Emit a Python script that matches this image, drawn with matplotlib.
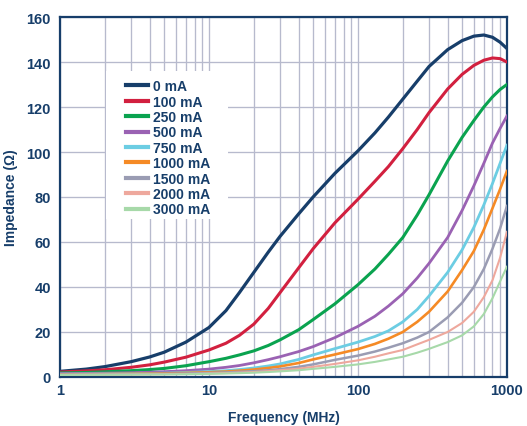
import matplotlib
matplotlib.use('Agg')
import matplotlib.pyplot as plt
import matplotlib.patches as patches
from matplotlib.ticker import FixedLocator, NullFormatter

plt.rcParams['font.family'] = ['Liberation Sans', 'DejaVu Sans']

# frequency points (MHz)
freq = [1, 1.5, 2, 3, 4, 5, 7, 10, 13, 16, 20, 25, 30, 40, 50, 70, 100,
        130, 160, 200, 250, 300, 400, 500, 600, 700, 800, 900, 1000]

# impedance (ohm) per bias current
z_0ma = [2.5, 3.5, 4.6, 6.8, 8.9, 11, 15.5, 22, 29.5, 37.5, 46.5, 55.5, 62.5, 72.5, 80, 90.5, 100.5,
         108.5, 115.5, 123.5, 131.5, 138, 145.5, 149.5, 151.5, 152, 151, 148.8, 146]
z_100ma = [2.2, 2.7, 3.2, 4.3, 5.4, 6.6, 8.8, 12, 15, 18.5, 23.5, 30.5, 37.5, 48.5, 57, 68.5, 79,
           87, 93.5, 101.5, 110, 117.5, 128, 134.5, 138.5, 140.8, 141.8, 141.5, 140]
z_250ma = [1.8, 2, 2.3, 2.8, 3.3, 3.8, 5, 6.8, 8.3, 9.8, 11.6, 14, 16.5, 21, 25.5, 32.5, 41,
           48, 54.5, 62, 72, 81, 96, 106.5, 114, 120, 124.5, 127.8, 130]
z_500ma = [1.5, 1.6, 1.7, 1.9, 2.1, 2.35, 2.8, 3.5, 4.3, 5.1, 6.3, 7.7, 9, 11.3, 13.5, 17.5, 22.5,
           27, 31.5, 37, 44, 50.5, 62, 74, 85, 95, 104, 110.5, 116]
z_750ma = [1.3, 1.35, 1.4, 1.5, 1.6, 1.7, 2, 2.4, 2.8, 3.3, 4, 4.9, 5.8, 7.8, 9.8, 12.6, 15.5,
           18, 20.5, 24.5, 30, 36, 46.5, 56.5, 66.5, 76.5, 86, 95, 103]
z_1000ma = [1.2, 1.25, 1.3, 1.4, 1.5, 1.6, 1.8, 2.1, 2.4, 2.8, 3.3, 4, 4.7, 6.2, 7.8, 10, 12.4,
            14.7, 17, 20, 24.5, 29, 38, 47.5, 56, 65.5, 75, 83.5, 91.5]
z_1500ma = [1.1, 1.15, 1.2, 1.3, 1.35, 1.4, 1.55, 1.8, 2.05, 2.3, 2.6, 3, 3.5, 4.5, 5.6, 7.6, 9.5,
            11.3, 13, 15, 17.5, 20, 26.5, 33, 40, 48, 57, 66, 76]
z_2000ma = [1.0, 1.05, 1.1, 1.15, 1.2, 1.25, 1.35, 1.55, 1.75, 1.95, 2.2, 2.6, 3, 3.7, 4.5, 5.8, 7.4,
            9, 10.5, 12, 14.5, 16.5, 20, 24, 29, 35.5, 43, 53, 64.5]
z_3000ma = [0.9, 0.95, 1, 1.05, 1.1, 1.15, 1.25, 1.4, 1.55, 1.7, 1.9, 2.2, 2.5, 3, 3.6, 4.5, 5.6,
            6.7, 7.8, 9, 10.8, 12.5, 15.5, 18.5, 22.5, 28, 35, 42.5, 49]

labels = ['0 mA', '100 mA', '250 mA', '500 mA', '750 mA',
          '1000 mA', '1500 mA', '2000 mA', '3000 mA']
series = [z_0ma, z_100ma, z_250ma, z_500ma, z_750ma,
          z_1000ma, z_1500ma, z_2000ma, z_3000ma]
colors = ['#173e6a', '#d2203f', '#0aa34f', '#9a62b3', '#6ccde3',
          '#f58a25', '#9a9cb3', '#eea89d', '#a7d9a9']
widths = [2.3, 2.2, 2.2, 2.0, 2.0, 1.9, 1.8, 1.5, 1.5]

navy = '#173e6a'
grid_col = '#b7bacd'

fig = plt.figure(figsize=(5.27, 4.27), dpi=100, facecolor='white')
ax = fig.add_axes([0.1139, 0.1148, 0.848, 0.843])
ax.set_axisbelow(True)

for z, lab, c, w in zip(series, labels, colors, widths):
    ax.plot(freq, z, color=c, lw=w, label=lab, solid_joinstyle='round', zorder=3)

ax.set_xscale('log')
ax.set_xlim(1, 1000)
ax.set_ylim(0, 160)

ax.xaxis.set_major_locator(FixedLocator([1, 10, 100, 1000]))
ax.set_xticklabels(['1', '10', '100', '1000'])
minors = [m * d for d in (1, 10, 100) for m in range(2, 10)]
ax.xaxis.set_minor_locator(FixedLocator(minors))
ax.xaxis.set_minor_formatter(NullFormatter())
ax.set_yticks(range(0, 161, 20))

ax.grid(True, which='both', axis='x', color=grid_col, lw=0.95)
ax.grid(True, which='major', axis='y', color=grid_col, lw=0.95)

ax.tick_params(which='both', length=0, colors=navy, labelsize=10.5)
ax.tick_params(axis='y', pad=6.5)
ax.tick_params(axis='x', pad=4)
for t in ax.get_xticklabels() + ax.get_yticklabels():
    t.set_fontweight('bold')

for s in ax.spines.values():
    s.set_color(navy)
    s.set_linewidth(1.6)

ax.set_xlabel('Frequency (MHz)', fontsize=10, fontweight='bold', color=navy, labelpad=10)
ax.set_ylabel('Impedance (\u03a9)', fontsize=10, fontweight='bold', color=navy, labelpad=6)

# white patch behind the legend hides the grid
ax.add_patch(patches.Rectangle((0.103, 0.44), 0.273, 0.41, transform=ax.transAxes,
                               facecolor='white', edgecolor='none', zorder=1))

leg = ax.legend(loc='upper left', bbox_to_anchor=(0.148, 0.827), frameon=False,
                borderpad=0, borderaxespad=0, handlelength=1.58, handletextpad=0.36,
                labelspacing=0.1, prop={'size': 10, 'weight': 'bold'})
for t in leg.get_texts():
    t.set_color(navy)
for h in leg.get_lines():
    h.set_linewidth(3.0)

fig.savefig('out.png', dpi=100, facecolor='white')
